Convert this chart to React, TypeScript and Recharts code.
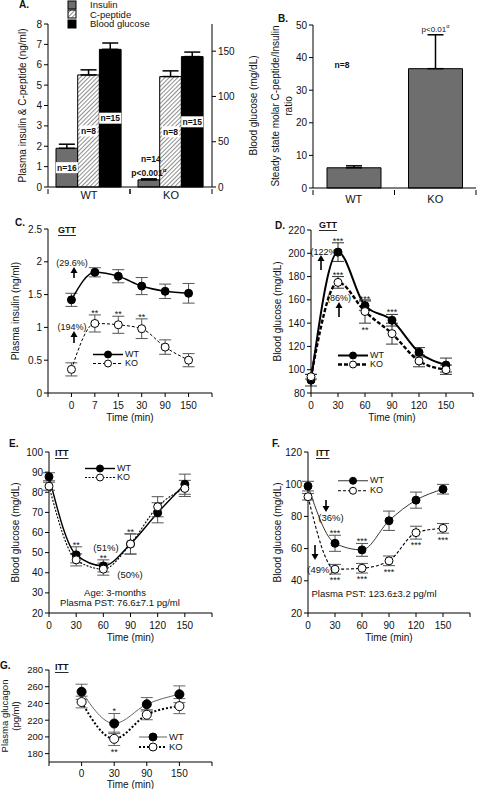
import React from "react";
import {
  BarChart,
  Bar,
  LineChart,
  Line,
  XAxis,
  YAxis,
  ErrorBar,
  LabelList,
  Legend,
  ReferenceDot,
} from "recharts";

const FONT = "'Liberation Sans', Arial, Helvetica, sans-serif";
const GRAY = "#6e6e6e";
const TICK = { fontSize: 10, fill: "#111" };

// A. fasting insulin, C-peptide (left axis) and blood glucose (right axis)
const groups = ["WT", "KO"];
const insulin = [1.9, 0.35];
const insulinErr = [0.2, 0.05];
const insulinN = ["n=16", "n=14"];
const insulinP = ["", "p<0.001"];
const cpeptide = [5.5, 5.42];
const cpeptideErr = [0.25, 0.28];
const cpeptideN = ["n=8", "n=8"];
const glucose = [152, 144];
const glucoseErr = [7, 5];
const glucoseN = ["n=15", "n=15"];

// B. C-peptide / insulin ratio
const ratio = [6.2, 36.6];
const ratioErr = [0.6, 10.4];
const ratioP = ["", "p<0.01"];

// C. GTT plasma insulin
const insulinTimes = ["0", "7", "15", "30", "90", "150"];
const wtInsulin = [1.42, 1.84, 1.78, 1.63, 1.55, 1.52];
const wtInsulinErr = [0.1, 0.07, 0.1, 0.13, 0.11, 0.15];
const koInsulin = [0.36, 1.06, 1.04, 0.98, 0.7, 0.5];
const koInsulinErr = [0.1, 0.13, 0.13, 0.15, 0.11, 0.1];
const koInsulinStars = ["", "**", "**", "**", "", ""];

// D. GTT blood glucose
const gttTimes = [0, 30, 60, 90, 120, 150];
const wtGtt = [91, 201, 155, 142.5, 115, 104];
const wtGttErr = [5, 8, 4, 5, 4, 6];
const koGtt = [94, 175, 150, 131, 107.5, 100];
const koGttErr = [2, 5, 10, 9, 5, 4];
const wtGttStars = ["", "***", "***", "***", "", ""];
const koGttStarsUp = ["", "***", "", "", "", ""];
const koGttStarsDown = ["", "", "**", "", "", ""];

// E. ITT, 3 months
const ittTimes = [0, 30, 60, 90, 120, 150];
const wtIttE = [87.7, 48.9, 43.4, 54.3, 69.8, 84];
const wtIttEErr = [2, 4, 3, 5, 5, 5];
const koIttE = [83, 46.4, 41.8, 54.3, 72.8, 81.9];
const koIttEErr = [2, 3, 3, 5, 5, 4];
const wtIttEStars = ["", "**", "**", "**", "", ""];

// F. ITT
const wtIttF = [98.8, 63.3, 59.2, 77.3, 90.1, 96.9];
const wtIttFErr = [3, 5, 4, 6, 5, 3];
const koIttF = [92.2, 47.2, 47.8, 52.4, 69.9, 72.6];
const koIttFErr = [2, 3, 3, 3, 4, 3];
const wtIttFStars = ["", "***", "***", "", "", ""];
const koIttFStars = ["", "***", "***", "***", "***", "***"];

// G. ITT plasma glucagon
const glucagonTimes = ["0", "30", "90", "150"];
const wtGlucagon = [254, 216, 239, 251];
const wtGlucagonErr = [9, 12, 8, 10];
const koGlucagon = [241.7, 197.7, 226.5, 236.8];
const koGlucagonErr = [7, 8, 6, 9];
const wtGlucagonStars = ["", "*", "", ""];
const koGlucagonStars = ["", "**", "", ""];

const aData = groups.map((name, i) => ({
  name,
  insulin: insulin[i],
  insulinErr: [0, insulinErr[i]],
  insulinN: insulinN[i],
  cpeptide: cpeptide[i],
  cpeptideErr: [0, cpeptideErr[i]],
  cpeptideN: cpeptideN[i],
  glucose: glucose[i],
  glucoseErr: [0, glucoseErr[i]],
  glucoseN: glucoseN[i],
}));

const bData = groups.map((name, i) => ({
  name,
  ratio: ratio[i],
  ratioErr: [0, ratioErr[i]],
  p: ratioP[i],
}));

const cData = insulinTimes.map((_, i) => ({
  i,
  wt: wtInsulin[i],
  wtErr: wtInsulinErr[i],
  ko: koInsulin[i],
  koErr: koInsulinErr[i],
}));

const dData = gttTimes.map((t, i) => ({
  t,
  wt: wtGtt[i],
  wtErr: wtGttErr[i],
  ko: koGtt[i],
  koErr: koGttErr[i],
}));

const eData = ittTimes.map((t, i) => ({
  t,
  wt: wtIttE[i],
  wtErr: wtIttEErr[i],
  ko: koIttE[i],
  koErr: koIttEErr[i],
}));

const fData = ittTimes.map((t, i) => ({
  t,
  wt: wtIttF[i],
  wtErr: wtIttFErr[i],
  ko: koIttF[i],
  koErr: koIttFErr[i],
}));

const gData = glucagonTimes.map((_, i) => ({
  i,
  wt: wtGlucagon[i],
  wtErr: wtGlucagonErr[i],
  ko: koGlucagon[i],
  koErr: koGlucagonErr[i],
}));

type SeriesStyle = {
  stroke: string;
  width: number;
  dash?: string;
  fill: string;
  r: number;
};

const C_WT: SeriesStyle = { stroke: "#000", width: 1.5, fill: "#000", r: 4 };
const C_KO: SeriesStyle = { stroke: "#000", width: 1, dash: "3 2", fill: "#fff", r: 4 };
const D_WT: SeriesStyle = { stroke: "#000", width: 2, fill: "#000", r: 4 };
const D_KO: SeriesStyle = { stroke: "#000", width: 2.4, dash: "4 2", fill: "#fff", r: 4 };
const E_WT: SeriesStyle = { stroke: "#000", width: 1.4, fill: "#000", r: 4 };
const E_KO: SeriesStyle = { stroke: "#000", width: 1.1, dash: "2 1.5", fill: "#fff", r: 4 };
const F_WT: SeriesStyle = { stroke: "#333", width: 1, fill: "#000", r: 4 };
const F_KO: SeriesStyle = { stroke: "#000", width: 1.1, dash: "3 2", fill: "#fff", r: 4 };
const G_WT: SeriesStyle = { stroke: "#666", width: 1, fill: "#000", r: 4.5 };
const G_KO: SeriesStyle = { stroke: "#000", width: 2, dash: "2 2", fill: "#fff", r: 4.5 };

function GroupTick(props: any) {
  const { x, y, payload, labelY } = props;
  const half = payload && payload.offset ? payload.offset : 41;
  return (
    <g>
      <line x1={x - half} x2={x - half} y1={y} y2={y + 5} stroke="#000" />
      <line x1={x + half} x2={x + half} y1={y} y2={y + 5} stroke="#000" />
      <text x={x} y={y + labelY} textAnchor="middle" fontSize={11} fill="#111">
        {payload.value}
      </text>
    </g>
  );
}

function BoxLabel(props: any) {
  const { x, y, width, height, value } = props;
  if (!value) return null;
  const cx = x + width / 2;
  if (height < 20) {
    const p = insulinP[props.index];
    return (
      <g fontSize={8.5} fontWeight="bold" fill="#111" textAnchor="middle">
        <text x={cx + 2} y={y - 18}>{value}</text>
        {p ? (
          <text x={cx} y={y - 4}>
            {p}
            <tspan fontSize={6} dy={-4}>α</tspan>
          </text>
        ) : null}
      </g>
    );
  }
  const cy = y + height / 2;
  const w = value.length * 4.8 + 3;
  return (
    <g>
      <rect x={cx - w / 2} y={cy - 5.5} width={w} height={11} fill="#fff" />
      <text x={cx} y={cy + 3} textAnchor="middle" fontSize={8.5} fontWeight="bold" fill="#111">
        {value}
      </text>
    </g>
  );
}

function PLabel(props: any) {
  const { x, y, width, height, index } = props;
  const p = bData[index].p;
  if (!p) return null;
  const errPx = (height / ratio[index]) * ratioErr[index];
  return (
    <text x={x + width / 2} y={y - errPx - 3} textAnchor="middle" fontSize={8} fill="#111">
      {p}
      <tspan fontSize={5.5} dy={-3.5}>α</tspan>
    </text>
  );
}

function LineKey({ entries, rowH, fontSize = 9, len = 30 }: { entries: [string, SeriesStyle][]; rowH: number; fontSize?: number; len?: number }) {
  return (
    <div style={{ fontFamily: FONT, fontSize, color: "#111" }}>
      {entries.map(([label, s]) => (
        <div key={label} style={{ display: "flex", alignItems: "center", height: rowH }}>
          <svg width={len + 2} height={rowH} style={{ overflow: "visible" }}>
            <line x1={1} x2={len + 1} y1={rowH / 2} y2={rowH / 2} stroke={s.stroke} strokeWidth={s.width} strokeDasharray={s.dash} />
            <circle cx={len / 2 + 1} cy={rowH / 2} r={s.r - 0.5} fill={s.fill} stroke="#000" />
          </svg>
          <span style={{ marginLeft: 1, lineHeight: `${rowH}px` }}>{label}</span>
        </div>
      ))}
    </div>
  );
}

function dotOf(s: SeriesStyle) {
  return { r: s.r, fill: s.fill, stroke: "#000", strokeWidth: 1, strokeDasharray: "none" };
}

function starDots(xs: number[], vals: number[], errs: number[], stars: string[], side: "top" | "bottom") {
  return stars.map((s, i) =>
    s ? (
      <ReferenceDot
        key={side + i}
        x={xs[i]}
        y={side === "top" ? vals[i] + errs[i] : vals[i] - errs[i]}
        r={0}
        fill="none"
        stroke="none"
        label={{ value: s, position: side, offset: side === "top" ? -1 : 3, fontSize: 9, fill: "#111" }}
      />
    ) : null
  );
}

function seriesLines(wt: SeriesStyle, ko: SeriesStyle, errStroke: string) {
  return [
    <Line
      key="wt"
      dataKey="wt"
      type="monotone"
      stroke={wt.stroke}
      strokeWidth={wt.width}
      dot={dotOf(wt)}
      activeDot={false}
      isAnimationActive={false}
    >
      <ErrorBar dataKey="wtErr" direction="y" width={6} stroke={errStroke} strokeWidth={1} />
    </Line>,
    <Line
      key="ko"
      dataKey="ko"
      type="monotone"
      stroke={ko.stroke}
      strokeWidth={ko.width}
      strokeDasharray={ko.dash}
      dot={dotOf(ko)}
      activeDot={false}
      isAnimationActive={false}
    >
      <ErrorBar dataKey="koErr" direction="y" width={6} stroke={errStroke} strokeWidth={1} />
    </Line>,
  ];
}

const yLabel = (value: string, offset: number) => ({
  value,
  angle: -90,
  position: "insideLeft" as const,
  offset,
  style: { textAnchor: "middle", fontSize: 10, fill: "#111" },
});

const timeLabel = (offset: number) => ({
  value: "Time (min)",
  position: "insideBottom" as const,
  offset,
  style: { fontSize: 10, fill: "#111" },
});

const keyLegend = (left: number, top: number, node: React.ReactNode) => (
  <Legend
    layout="vertical"
    align="center"
    verticalAlign="middle"
    wrapperStyle={{ left, top, width: "auto", height: "auto" }}
    content={() => node}
  />
);

function Box({ left, top, children }: { left: number; top: number; children: React.ReactNode }) {
  return <div style={{ position: "absolute", left, top }}>{children}</div>;
}

function PanelA() {
  return (
    <BarChart width={260} height={217} data={aData} margin={{ top: 24, right: 0, left: 0, bottom: 0 }} barGap={0} barSize={21.7}>
      <XAxis dataKey="name" stroke="#000" tickLine={false} tickSize={0} height={30} interval={0} tick={<GroupTick labelY={10} />} />
      <YAxis
        yAxisId="left"
        domain={[0, 8]}
        ticks={[0, 1, 2, 3, 4, 5, 6, 7, 8]}
        width={48}
        stroke="#000"
        tickSize={4}
        tickMargin={2}
        tick={TICK}
        label={yLabel("Plasma insulin & C-peptide (ng/ml)", 22)}
      />
      <YAxis
        yAxisId="right"
        orientation="right"
        domain={[0, 180]}
        ticks={[0, 50, 100, 150]}
        width={48}
        stroke="#000"
        tickSize={4}
        tickMargin={2}
        tick={TICK}
        label={{ value: "Blood glucose (mg/dL)", angle: -90, position: "insideRight", offset: 7, style: { textAnchor: "middle", fontSize: 10, fill: "#111" } }}
      />
      {keyLegend(
        67,
        0,
        <div style={{ fontFamily: FONT, fontSize: 9.5, color: "#111" }}>
          {[
            ["Insulin", GRAY],
            ["C-peptide", "url(#hatch)"],
            ["Blood glucose", "#000"],
          ].map(([label, fill]) => (
            <div key={label} style={{ display: "flex", alignItems: "center", height: 9.6 }}>
              <svg width={10} height={10}>
                <rect x={1} y={1} width={8} height={8} fill={fill} stroke="#000" />
              </svg>
              <span style={{ marginLeft: 13 }}>{label}</span>
            </div>
          ))}
        </div>
      )}
      <Bar yAxisId="left" dataKey="insulin" fill={GRAY} stroke="#000" isAnimationActive={false}>
        <ErrorBar dataKey="insulinErr" direction="y" width={8} stroke="#000" strokeWidth={1.5} />
        <LabelList dataKey="insulinN" content={(p: any) => <BoxLabel {...p} />} />
      </Bar>
      <Bar yAxisId="left" dataKey="cpeptide" fill="url(#hatch)" stroke="#000" isAnimationActive={false}>
        <ErrorBar dataKey="cpeptideErr" direction="y" width={8} stroke="#000" strokeWidth={1.5} />
        <LabelList dataKey="cpeptideN" content={(p: any) => <BoxLabel {...p} />} />
      </Bar>
      <Bar yAxisId="right" dataKey="glucose" fill="#000" stroke="#000" isAnimationActive={false}>
        <ErrorBar dataKey="glucoseErr" direction="y" width={8} stroke="#000" strokeWidth={1.5} />
        <LabelList dataKey="glucoseN" content={(p: any) => <BoxLabel {...p} />} />
      </Bar>
    </BarChart>
  );
}

function PanelB() {
  return (
    <BarChart width={212} height={218} data={bData} margin={{ top: 25, right: 1, left: 0, bottom: 0 }} barSize={54}>
      <XAxis dataKey="name" stroke="#000" tickLine={false} tickSize={0} height={30} interval={0} tick={<GroupTick labelY={13} />} />
      <YAxis domain={[0, 50]} ticks={[0, 10, 20, 30, 40, 50]} width={48} stroke="#000" tickSize={4} tickMargin={2} tick={TICK} />
      <Bar dataKey="ratio" fill={GRAY} stroke="#000" isAnimationActive={false}>
        <ErrorBar dataKey="ratioErr" direction="y" width={8} stroke="#000" strokeWidth={1.5} />
        <LabelList dataKey="p" content={(p: any) => <PLabel {...p} />} />
      </Bar>
    </BarChart>
  );
}

function PanelC() {
  const idx = insulinTimes.map((_, i) => i);
  return (
    <LineChart width={240} height={223} data={cData} margin={{ top: 29, right: 28, left: 0, bottom: 0 }}>
      <XAxis
        type="number"
        dataKey="i"
        domain={[-1, 6]}
        ticks={[-1, 0, 1, 2, 3, 4, 5, 6]}
        interval={0}
        tickFormatter={(v: number) => insulinTimes[v] ?? ""}
        stroke="#000"
        height={30}
        tickSize={4}
        tickMargin={5}
        tick={TICK}
        label={timeLabel(2.5)}
      />
      <YAxis domain={[0, 2.5]} ticks={[0, 0.5, 1, 1.5, 2, 2.5]} width={48} stroke="#000" tickSize={4} tickMargin={2} tick={TICK} label={yLabel("Plasma insulin (ng/ml)", 15)} />
      {keyLegend(92, 150, <LineKey rowH={9} entries={[["WT", C_WT], ["KO", C_KO]]} />)}
      {seriesLines(C_WT, C_KO, "#555")}
      {starDots(idx, koInsulin, koInsulinErr, koInsulinStars, "top")}
    </LineChart>
  );
}

function PanelD() {
  return (
    <LineChart width={214} height={223} data={dData} margin={{ top: 30, right: 4, left: 0, bottom: 0 }}>
      <XAxis
        type="number"
        dataKey="t"
        domain={[0, 180]}
        ticks={[0, 30, 60, 90, 120, 150, 180]}
        interval={0}
        tickFormatter={(v: number) => (v === 180 ? "" : String(v))}
        stroke="#000"
        height={30}
        tickSize={4}
        tickMargin={5}
        tick={TICK}
        label={timeLabel(2.5)}
      />
      <YAxis domain={[80, 220]} ticks={[80, 100, 120, 140, 160, 180, 200, 220]} width={48} stroke="#000" tickSize={4} tickMargin={2} tick={TICK} label={yLabel("Blood glucose (mg/dL)", 14)} />
      {keyLegend(74, 151, <LineKey rowH={9} entries={[["WT", D_WT], ["KO", D_KO]]} />)}
      {seriesLines(D_WT, D_KO, "#333")}
      {starDots(gttTimes, wtGtt, wtGttErr, wtGttStars, "top")}
      {starDots(gttTimes, koGtt, koGttErr, koGttStarsUp, "top")}
      {starDots(gttTimes, koGtt, koGttErr, koGttStarsDown, "bottom")}
    </LineChart>
  );
}

function PanelE() {
  return (
    <LineChart width={231} height={223} data={eData} margin={{ top: 32, right: 20, left: 0, bottom: 0 }}>
      <XAxis
        type="number"
        dataKey="t"
        domain={[0, 180]}
        ticks={[0, 30, 60, 90, 120, 150, 180]}
        interval={0}
        tickFormatter={(v: number) => (v === 180 ? "" : String(v))}
        stroke="#000"
        height={30}
        tickSize={4}
        tickMargin={5}
        tick={TICK}
        label={timeLabel(2.5)}
      />
      <YAxis domain={[20, 100]} ticks={[20, 30, 40, 50, 60, 70, 80, 90, 100]} width={48} stroke="#000" tickSize={4} tickMargin={2} tick={TICK} label={yLabel("Blood glucose (mg/dL)", 14)} />
      {keyLegend(83, 44, <LineKey rowH={9} entries={[["WT", E_WT], ["KO", E_KO]]} />)}
      {seriesLines(E_WT, E_KO, "#555")}
      {starDots(ittTimes, wtIttE, wtIttEErr, wtIttEStars, "top")}
    </LineChart>
  );
}

function PanelF() {
  return (
    <LineChart width={215} height={223} data={fData} margin={{ top: 32, right: 5, left: 0, bottom: 0 }}>
      <XAxis
        type="number"
        dataKey="t"
        domain={[0, 180]}
        ticks={[0, 30, 60, 90, 120, 150, 180]}
        interval={0}
        tickFormatter={(v: number) => (v === 180 ? "" : String(v))}
        stroke="#000"
        height={30}
        tickSize={4}
        tickMargin={5}
        tick={TICK}
        label={timeLabel(2.5)}
      />
      <YAxis domain={[20, 120]} ticks={[20, 40, 60, 80, 100, 120]} width={48} stroke="#000" tickSize={4} tickMargin={2} tick={TICK} label={yLabel("Blood glucose (mg/dL)", 17)} />
      {keyLegend(77, 56, <LineKey rowH={9.5} entries={[["WT", F_WT], ["KO", F_KO]]} />)}
      {seriesLines(F_WT, F_KO, "#555")}
      {starDots(ittTimes, wtIttF, wtIttFErr, wtIttFStars, "top")}
      {starDots(ittTimes, koIttF, koIttFErr, koIttFStars, "bottom")}
    </LineChart>
  );
}

function PanelG() {
  const idx = glucagonTimes.map((_, i) => i);
  return (
    <LineChart width={231} height={142} data={gData} margin={{ top: 20, right: 20, left: 0, bottom: 0 }}>
      <XAxis
        type="number"
        dataKey="i"
        domain={[-1, 4]}
        ticks={[-1, 0, 1, 2, 3, 4]}
        interval={0}
        tickFormatter={(v: number) => glucagonTimes[v] ?? ""}
        stroke="#000"
        height={30}
        tickSize={4}
        tickMargin={3.5}
        tick={TICK}
        label={timeLabel(4.5)}
      />
      <YAxis domain={[170, 280]} ticks={[180, 200, 220, 240, 260, 280]} width={48} stroke="#000" tickSize={4} tickMargin={2} tick={{ fontSize: 9.5, fill: "#111" }} />
      {keyLegend(137, 82, <LineKey rowH={10} len={28} fontSize={9.5} entries={[["WT", G_WT], ["KO", G_KO]]} />)}
      {seriesLines(G_WT, G_KO, "#666")}
      {starDots(idx, wtGlucagon, wtGlucagonErr, wtGlucagonStars, "top")}
      {starDots(idx, koGlucagon, koGlucagonErr, koGlucagonStars, "bottom")}
    </LineChart>
  );
}

function Arrow({ x, from, to }: { x: number; from: number; to: number }) {
  const dir = to < from ? -1 : 1;
  const base = to - dir * 6;
  return (
    <g>
      <line x1={x} x2={x} y1={from} y2={base} stroke="#000" strokeWidth={1.6} />
      <polygon points={`${x - 3.5},${base} ${x + 3.5},${base} ${x},${to}`} fill="#000" />
    </g>
  );
}

function T({ x, y, children, anchor = "middle", size = 9.5, bold = false, underline = false, rotate = false }: any) {
  return (
    <text
      x={x}
      y={y}
      textAnchor={anchor}
      dominantBaseline="central"
      fontSize={size}
      fontWeight={bold ? "bold" : "normal"}
      textDecoration={underline ? "underline" : undefined}
      transform={rotate ? `rotate(-90 ${x} ${y})` : undefined}
      fill="#111"
    >
      {children}
    </text>
  );
}

export default function App() {
  return (
    <div style={{ position: "absolute", left: 0, top: 0, width: 477, height: 789, background: "#fff", fontFamily: FONT, overflow: "hidden" }}>
      <svg width={0} height={0} style={{ position: "absolute" }}>
        <defs>
          <pattern id="hatch" width={3} height={3} patternUnits="userSpaceOnUse" patternTransform="rotate(45)">
            <rect width={3} height={3} fill="#fff" />
            <line x1={0} y1={0} x2={0} y2={3} stroke="#444" strokeWidth={1.2} />
          </pattern>
        </defs>
      </svg>
      <Box left={0} top={0}><PanelA /></Box>
      <Box left={265} top={0}><PanelB /></Box>
      <Box left={0} top={200}><PanelC /></Box>
      <Box left={263} top={200}><PanelD /></Box>
      <Box left={1} top={420}><PanelE /></Box>
      <Box left={260} top={420}><PanelF /></Box>
      <Box left={1} top={650}><PanelG /></Box>
      <svg width={477} height={789} style={{ position: "absolute", left: 0, top: 0, pointerEvents: "none", fontFamily: FONT }}>
        <T x={19} y={4} anchor="start" size={10} bold>A.</T>
        <T x={278} y={18} anchor="start" size={10} bold>B.</T>
        <T x={15} y={222} anchor="start" size={10} bold>C.</T>
        <T x={275} y={225} anchor="start" size={10} bold>D.</T>
        <T x={9} y={443} anchor="start" size={10} bold>E.</T>
        <T x={272} y={443} anchor="start" size={10} bold>F.</T>
        <T x={0} y={665} anchor="start" size={10} bold>G.</T>

        <T x={58} y={230} anchor="start" size={9} bold underline>GTT</T>
        <T x={319} y={225} anchor="start" size={9} bold underline>GTT</T>
        <T x={55} y={453} anchor="start" size={9} bold underline>ITT</T>
        <T x={316} y={453} anchor="start" size={9} bold underline>ITT</T>
        <T x={55} y={667} anchor="start" size={9} bold underline>ITT</T>

        <T x={275} y={106} size={10} rotate>Steady state molar C-peptide/Insulin</T>
        <T x={288} y={106} size={10} rotate>ratio</T>
        <T x={342} y={65} size={8.5} bold>n=8</T>
        <T x={4} y={716} size={9.5} rotate>Plasma glucagon</T>
        <T x={15} y={716} size={9.5} rotate>(pg/ml)</T>

        <T x={72} y={263} size={9}>(29.6%)</T>
        <Arrow x={74} from={278} to={267} />
        <T x={72} y={327} size={9}>(194%)</T>
        <Arrow x={74} from={343} to={331} />

        <T x={325} y={252} size={9}>(122%)</T>
        <Arrow x={321} from={270} to={255} />
        <T x={339} y={298} size={9}>(86%)</T>
        <Arrow x={339} from={317} to={302} />

        <T x={106} y={547} size={9.5}>(51%)</T>
        <T x={130} y={574} size={9.5}>(50%)</T>
        <T x={115} y={592} size={9.5}>Age: 3-months</T>
        <T x={120} y={602} size={9.5}>Plasma PST: 76.6±7.1 pg/ml</T>

        <Arrow x={326} from={500} to={512} />
        <T x={331} y={517} size={9.5}>(36%)</T>
        <Arrow x={315} from={545} to={560} />
        <T x={320} y={569} size={9.5}>(49%)</T>
        <T x={374} y={593} size={9.5}>Plasma PST: 123.6±3.2 pg/ml</T>
      </svg>
    </div>
  );
}
